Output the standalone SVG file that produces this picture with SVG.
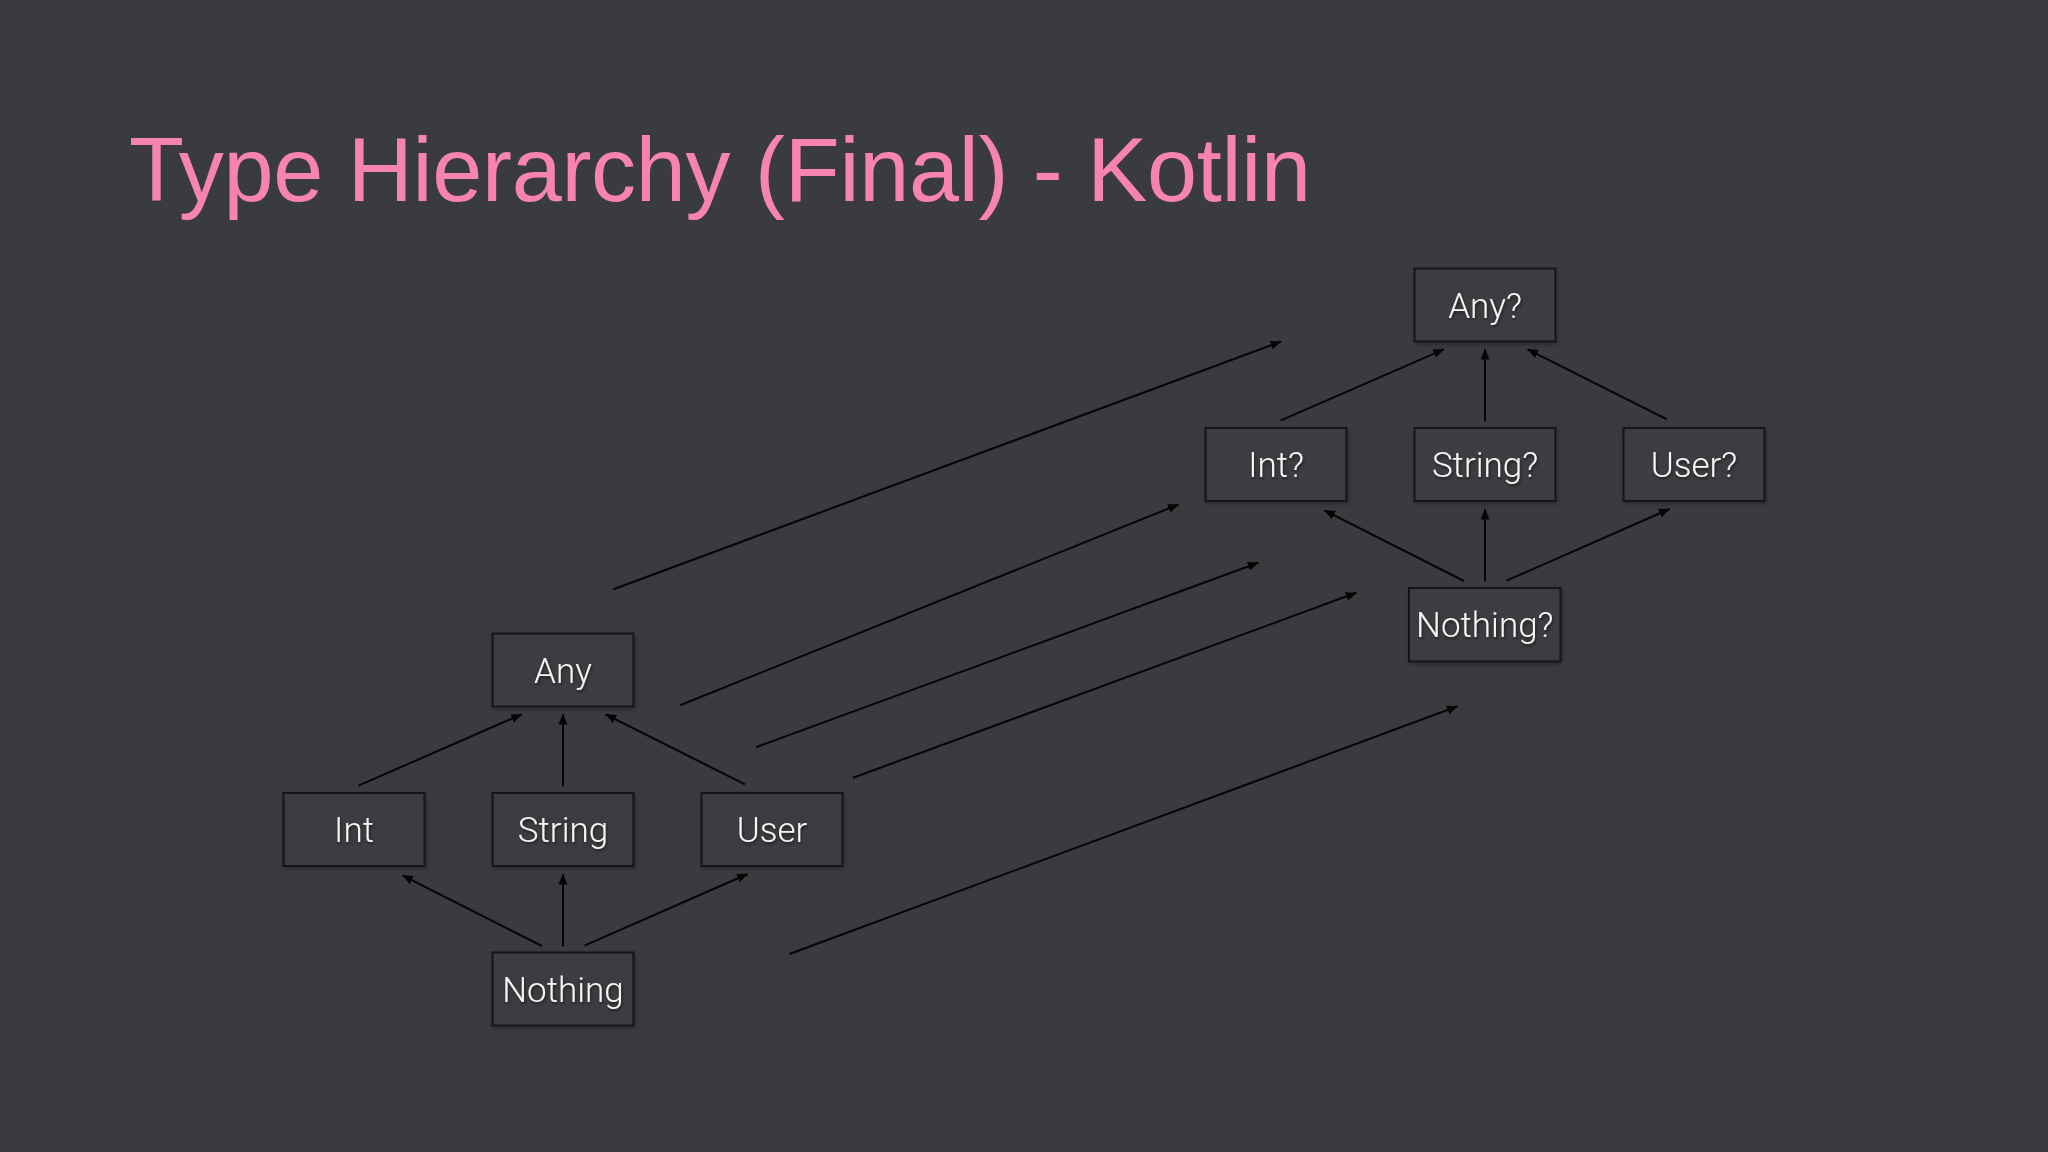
<svg xmlns="http://www.w3.org/2000/svg" width="2048" height="1152" viewBox="0 0 2048 1152">
  <style>
    .box { fill: #3b3c40; stroke: #151517; stroke-width: 2; }
    .lbl { font-family: Roboto, "Liberation Sans", Arial, sans-serif; font-weight: 300; font-size: 35px; fill: #f6f6f6; text-anchor: middle; }
    .edge { stroke: #050505; stroke-width: 2; fill: none; marker-end: url(#arrow); }
    .long { stroke: #050505; stroke-width: 2; fill: none; marker-end: url(#arrow); }
    .title { font-family: "Liberation Sans", Arial, sans-serif; font-size: 90px; fill: #f784b0; }
  </style>
  <defs>
    <marker id="arrow" markerUnits="userSpaceOnUse" markerWidth="11" markerHeight="10" refX="10.5" refY="4.5" orient="auto" viewBox="0 0 11 9">
      <path d="M0,0 L11,4.5 L0,9 z" fill="#050505"/>
    </marker>
    <filter id="tshadow" x="-20%" y="-30%" width="140%" height="160%">
      <feDropShadow dx="1" dy="2" stdDeviation="1.5" flood-color="#000" flood-opacity="0.5"/>
    </filter>
    <filter id="bshadow" x="-10%" y="-10%" width="120%" height="130%">
      <feDropShadow dx="1" dy="2" stdDeviation="2" flood-color="#000" flood-opacity="0.3"/>
    </filter>
  </defs>

  <rect x="0" y="0" width="2048" height="1152" fill="#3a3b3f"/>

  <text id="title" class="title" x="129" y="201" textLength="1182" lengthAdjust="spacing">Type Hierarchy (Final) - Kotlin</text>

  <g id="connectors">
    <!-- left cluster -->
    <line class="edge" x1="358.4" y1="785.7" x2="521.8" y2="714.3"/>
    <line class="edge" x1="563" y1="786.5" x2="563" y2="714"/>
    <line class="edge" x1="744.9" y1="784.3" x2="605.6" y2="714.3"/>
    <line class="edge" x1="542" y1="946" x2="402.4" y2="875.3"/>
    <line class="edge" x1="563" y1="946.5" x2="563" y2="874"/>
    <line class="edge" x1="584.5" y1="945.7" x2="747.6" y2="874"/>
    <!-- right cluster -->
    <line class="edge" x1="1280.4" y1="420.7" x2="1443.8" y2="349.3"/>
    <line class="edge" x1="1485" y1="421.5" x2="1485" y2="349"/>
    <line class="edge" x1="1666.9" y1="419.3" x2="1527.6" y2="349.3"/>
    <line class="edge" x1="1464" y1="581" x2="1324.4" y2="510.3"/>
    <line class="edge" x1="1485" y1="581.5" x2="1485" y2="509"/>
    <line class="edge" x1="1506.5" y1="580.7" x2="1669.6" y2="509"/>
    <!-- long mapping arrows -->
    <line class="long" x1="613.5" y1="589.2" x2="1281" y2="341.5"/>
    <line class="long" x1="680" y1="705.3" x2="1178.5" y2="504.5"/>
    <line class="long" x1="756" y1="747.2" x2="1258.3" y2="562.7"/>
    <line class="long" x1="853" y1="777.7" x2="1356.3" y2="592.8"/>
    <line class="long" x1="789.5" y1="954" x2="1457.5" y2="706.3"/>
  </g>

  <g id="node-any">
    <rect class="box" filter="url(#bshadow)" x="492.5" y="633.5" width="141" height="73"/>
    <text class="lbl" filter="url(#tshadow)" x="563" y="682.5">Any</text>
  </g>
  <g id="node-int">
    <rect class="box" filter="url(#bshadow)" x="283.5" y="793" width="141" height="73"/>
    <text class="lbl" filter="url(#tshadow)" x="354" y="842">Int</text>
  </g>
  <g id="node-string">
    <rect class="box" filter="url(#bshadow)" x="492.5" y="793" width="141" height="73"/>
    <text class="lbl" filter="url(#tshadow)" x="563" y="842">String</text>
  </g>
  <g id="node-user">
    <rect class="box" filter="url(#bshadow)" x="701.5" y="793" width="141" height="73"/>
    <text class="lbl" filter="url(#tshadow)" x="772" y="842">User</text>
  </g>
  <g id="node-nothing">
    <rect class="box" filter="url(#bshadow)" x="492.5" y="952.5" width="141" height="73"/>
    <text class="lbl" filter="url(#tshadow)" x="563" y="1001.5">Nothing</text>
  </g>

  <g id="node-any-q">
    <rect class="box" filter="url(#bshadow)" x="1414.5" y="268.5" width="141" height="73"/>
    <text class="lbl" filter="url(#tshadow)" x="1485" y="317.5">Any?</text>
  </g>
  <g id="node-int-q">
    <rect class="box" filter="url(#bshadow)" x="1205.5" y="428" width="141" height="73"/>
    <text class="lbl" filter="url(#tshadow)" x="1276" y="477">Int?</text>
  </g>
  <g id="node-string-q">
    <rect class="box" filter="url(#bshadow)" x="1414.5" y="428" width="141" height="73"/>
    <text class="lbl" filter="url(#tshadow)" x="1485" y="477">String?</text>
  </g>
  <g id="node-user-q">
    <rect class="box" filter="url(#bshadow)" x="1623.5" y="428" width="141" height="73"/>
    <text class="lbl" filter="url(#tshadow)" x="1694" y="477">User?</text>
  </g>
  <g id="node-nothing-q">
    <rect class="box" filter="url(#bshadow)" x="1409" y="588" width="151.5" height="73.5"/>
    <text class="lbl" filter="url(#tshadow)" x="1484.8" y="637">Nothing?</text>
  </g>
</svg>
